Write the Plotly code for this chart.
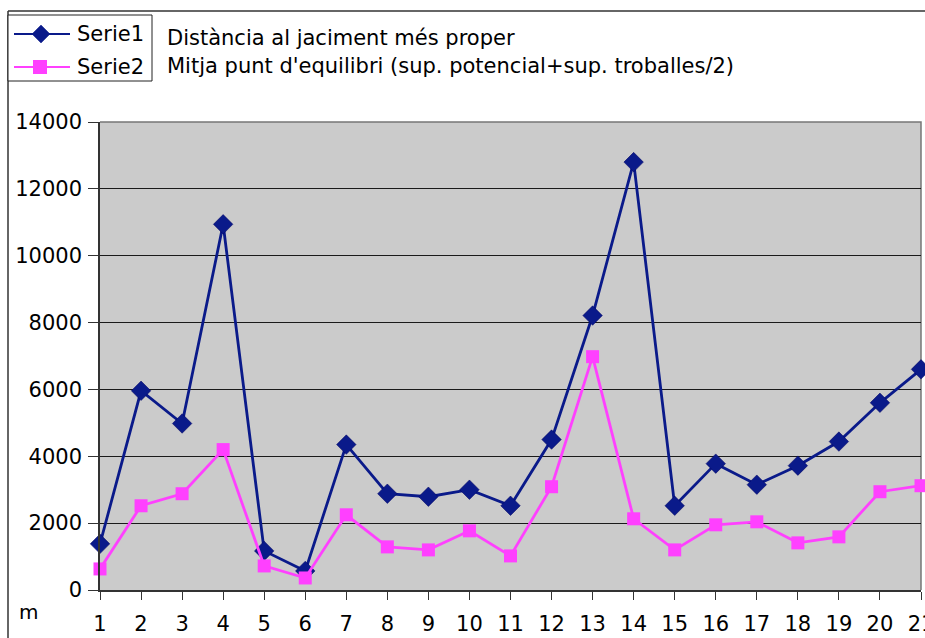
import plotly.graph_objects as go

categories = list(range(1, 22))
serie1 = [1380, 5960, 4980, 10940, 1170, 570, 4350, 2880, 2790, 3000, 2520,
          4500, 8210, 12800, 2520, 3780, 3150, 3720, 4440, 5600, 6600]
serie2 = [630, 2520, 2880, 4200, 720, 360, 2250, 1290, 1200, 1770, 1020,
          3090, 6980, 2130, 1200, 1950, 2040, 1410, 1590, 2940, 3120]
series_names = ["Serie1", "Serie2"]
series_desc = ["Distància al jaciment més proper",
               "Mitja punt d'equilibri (sup. potencial+sup. troballes/2)"]
y_ticks = [0, 2000, 4000, 6000, 8000, 10000, 12000, 14000]

W, H = 925, 638
L, R, T, B = 100, 4, 122, 48
PW, PH = W - L - R, H - T - B
BLUE = "#0A1A8A"
PINK = "#FF40FF"
FONT = "DejaVu Sans"


def px(x):
    return (x - L) / PW


def py(y):
    return (H - B - y) / PH


fig = go.Figure()
fig.add_trace(go.Scatter(x=categories, y=serie1, mode="lines+markers",
                         name=series_names[0], cliponaxis=False,
                         line=dict(color=BLUE, width=2.8),
                         marker=dict(symbol="diamond", size=15, color=BLUE,
                                     line=dict(color="#000060", width=0.5))))
fig.add_trace(go.Scatter(x=categories, y=serie2, mode="lines+markers",
                         name=series_names[1], cliponaxis=False,
                         line=dict(color=PINK, width=2.8),
                         marker=dict(symbol="square", size=13, color=PINK)))

shapes = []
# outer chart frame
shapes.append(dict(type="line", xref="paper", yref="paper",
                   x0=px(8), x1=px(930), y0=py(11), y1=py(11),
                   line=dict(color="#333", width=1.5)))
shapes.append(dict(type="line", xref="paper", yref="paper",
                   x0=px(8), x1=px(8), y0=py(11), y1=py(645),
                   line=dict(color="#333", width=1.5)))
# legend box
shapes.append(dict(type="rect", xref="paper", yref="paper",
                   x0=px(8), x1=px(152), y0=py(81), y1=py(15),
                   line=dict(color="#222", width=1), fillcolor="white"))
# legend symbols
shapes.append(dict(type="line", xref="paper", yref="paper",
                   x0=px(14), x1=px(70), y0=py(34), y1=py(34),
                   line=dict(color=BLUE, width=2)))
shapes.append(dict(type="path", xref="paper", yref="paper",
                   path=f"M {px(32)} {py(34)} L {px(41)} {py(25)} L {px(50)} {py(34)} L {px(41)} {py(43)} Z",
                   fillcolor=BLUE, line=dict(color=BLUE, width=0.5)))
shapes.append(dict(type="line", xref="paper", yref="paper",
                   x0=px(14), x1=px(70), y0=py(67), y1=py(67),
                   line=dict(color=PINK, width=2)))
shapes.append(dict(type="rect", xref="paper", yref="paper",
                   x0=px(33), x1=px(47), y0=py(74), y1=py(60),
                   fillcolor=PINK, line=dict(color=PINK, width=0)))
# plot area top/right border
shapes.append(dict(type="path", xref="paper", yref="paper",
                   path="M 0 1 L 1 1 L 1 0", layer="below",
                   line=dict(color="#777", width=1.5)))

annotations = []
for nm, y in zip(series_names, [34, 67]):
    annotations.append(dict(xref="paper", yref="paper", x=px(75), y=py(y),
                            text=nm, showarrow=False, xanchor="left",
                            yanchor="middle",
                            font=dict(family=FONT, size=21, color="black")))
for desc, y in zip(series_desc, [38, 66]):
    annotations.append(dict(xref="paper", yref="paper", x=px(165), y=py(y),
                            text=desc, showarrow=False, xanchor="left",
                            yanchor="middle",
                            font=dict(family=FONT, size=21, color="black")))
annotations.append(dict(xref="paper", yref="paper", x=px(28), y=py(612),
                        text="m", showarrow=False, xanchor="center",
                        yanchor="middle",
                        font=dict(family=FONT, size=20, color="black")))

fig.update_layout(
    width=W, height=H,
    margin=dict(l=L, r=R, t=T, b=B, pad=0, autoexpand=False),
    paper_bgcolor="white", plot_bgcolor="#CBCBCB",
    showlegend=False,
    shapes=shapes, annotations=annotations,
    font=dict(family=FONT, size=21, color="black"),
)
fig.update_xaxes(range=[1, 21], tickmode="array", tickvals=categories,
                 ticktext=[str(c) for c in categories],
                 ticks="outside", ticklen=8, tickcolor="#333", tickwidth=1,
                 showline=True, linecolor="#333", linewidth=1.5,
                 showgrid=False, zeroline=False, ticklabelstandoff=6,
                 ticklabeloverflow="allow", automargin=False,
                 tickfont=dict(family=FONT, size=21))
fig.update_yaxes(range=[0, 14000], tickmode="array", tickvals=y_ticks,
                 ticktext=[str(v) for v in y_ticks],
                 ticks="outside", ticklen=10, tickcolor="#333", tickwidth=1,
                 showline=True, linecolor="#333", linewidth=1.5,
                 showgrid=True, gridcolor="#1a1a1a", gridwidth=1.4,
                 zeroline=False, ticklabelstandoff=2, automargin=False,
                 tickfont=dict(family=FONT, size=21))

fig.write_html("out.html", config={"displayModeBar": False},
               post_script="document.body.style.margin='0';"
                           "document.body.style.overflow='hidden';")
